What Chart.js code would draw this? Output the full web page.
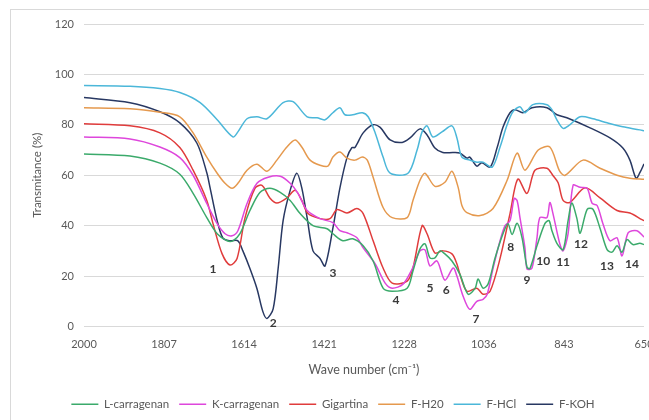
<!DOCTYPE html>
<html>
<head>
<meta charset="utf-8">
<script src="https://cdn.jsdelivr.net/npm/chart.js@4.4.1/dist/chart.umd.min.js"></script>
<style>
  html, body { margin: 0; padding: 0; background: #fff; overflow: hidden; }
  #wrap { position: relative; width: 665px; height: 420px; }
</style>
</head>
<body>
<div id="wrap"><canvas id="myChart"></canvas></div>
<script>
// wave number (cm-1), transmitance (%)
var lCarragenan = [
  [2000, 68.4], [1889, 67.6], [1817, 64.8], [1769, 60.4], [1737, 52.8], [1704, 43.2], [1679, 36.8],
  [1655, 34], [1641, 34], [1624, 36.8], [1600, 46], [1576, 53.2], [1552, 54.8], [1527, 53.2],
  [1503, 50], [1479, 44.8], [1448, 40], [1414, 38.8], [1400, 36.8], [1376, 34], [1352, 34.8],
  [1327, 32], [1303, 26], [1279, 15.2], [1257, 14], [1221, 15.2], [1207, 22], [1190, 30.8],
  [1178, 32.8], [1166, 27.2], [1154, 27.2], [1142, 30], [1130, 28.8], [1113, 26], [1094, 20.8],
  [1074, 12.8], [1057, 15.2], [1050, 18.8], [1038, 15.2], [1026, 16.8], [1009, 27.2], [990, 36.8],
  [978, 40.8], [968, 36.5], [956, 41], [944, 35.2], [932, 23.5], [925, 23], [908, 32], [889, 40.8],
  [879, 42], [872, 38], [860, 33], [845, 30.5], [833, 42], [824, 49], [812, 43], [804, 37],
  [787, 46.5], [773, 46.5], [756, 39], [739, 30.5], [727, 29.5], [715, 32], [703, 29.5],
  [691, 34.5], [677, 32.5], [660, 33], [650, 32.5]
];
var kCarragenan = [
  [2000, 75.2], [1889, 74.4], [1817, 71.2], [1769, 67], [1737, 60], [1704, 48.8], [1679, 40.8],
  [1660, 36.8], [1643, 36], [1629, 38], [1607, 48.8], [1583, 56.8], [1556, 59.2], [1527, 59.6],
  [1503, 56.8], [1484, 52.8], [1462, 46], [1431, 42.8], [1400, 41.2], [1383, 38], [1366, 37.2],
  [1342, 35.2], [1327, 31.2], [1298, 24.8], [1274, 17.2], [1257, 15.2], [1231, 16.8], [1209, 22.8],
  [1190, 30], [1178, 30.4], [1166, 24], [1149, 26], [1130, 18.4], [1110, 23.2], [1101, 20],
  [1086, 12], [1070, 6.8], [1053, 10], [1038, 10.8], [1028, 12.8], [1014, 23], [997, 34],
  [985, 40], [973, 42], [963, 50.8], [956, 50], [949, 43.2], [937, 31.2], [932, 22.8], [920, 23.2],
  [908, 35.2], [901, 43.2], [884, 43.2], [877, 49.2], [870, 45.2], [853, 32.8], [845, 30],
  [833, 36.8], [821, 56], [804, 55.2], [787, 54.8], [775, 48.8], [763, 48], [749, 40.8], [732, 34],
  [715, 35.2], [703, 28], [688, 37.2], [667, 38], [653, 36], [650, 35.5]
];
var gigartina = [
  [2000, 80.4], [1889, 79.6], [1817, 76.8], [1769, 71], [1737, 62], [1704, 50], [1689, 40.8],
  [1667, 28.8], [1648, 24.4], [1631, 27], [1612, 43], [1588, 54.8], [1571, 56], [1552, 51],
  [1535, 49], [1511, 51], [1491, 54], [1475, 50], [1460, 44.8], [1431, 42.8], [1407, 42.8],
  [1390, 46.4], [1366, 45], [1342, 46.8], [1327, 44.8], [1303, 34], [1279, 23.2], [1257, 17.2],
  [1221, 18], [1207, 23.2], [1185, 40], [1173, 36.8], [1154, 29.2], [1135, 30], [1113, 28.8],
  [1101, 24.8], [1094, 20.8], [1077, 14], [1053, 15.2], [1038, 12.8], [1021, 14], [997, 27],
  [973, 44.8], [954, 58.5], [932, 52.8], [913, 62], [884, 62.8], [870, 60], [857, 57],
  [845, 50], [829, 49.2], [792, 55], [756, 51], [715, 46], [684, 45], [655, 42.4], [650, 42]
];
var fH20 = [
  [2000, 86.8], [1889, 86.4], [1817, 85], [1769, 83.2], [1737, 76.8], [1704, 67.2], [1679, 60.8],
  [1660, 56.8], [1643, 54.8], [1629, 56.8], [1607, 62], [1583, 64.4], [1559, 61.6], [1535, 66],
  [1511, 71.2], [1491, 74], [1475, 71.2], [1455, 66], [1431, 64], [1412, 63.6], [1400, 67.2],
  [1383, 69.2], [1366, 66.8], [1347, 66], [1329, 67.2], [1317, 66], [1303, 59.2], [1279, 47.2],
  [1257, 43.2], [1221, 43.2], [1207, 50], [1190, 58], [1178, 60.8], [1154, 55.6], [1130, 57.2],
  [1113, 61.6], [1098, 55.2], [1089, 48], [1077, 45.2], [1045, 44], [1014, 46.8], [980, 58],
  [956, 68.8], [937, 62], [905, 70], [877, 71.2], [853, 61.5], [840, 60], [797, 66], [756, 62.8],
  [715, 60], [684, 58.8], [650, 58.4]
];
var fHCl = [
  [2000, 95.6], [1889, 95.3], [1817, 94.4], [1769, 92.8], [1720, 88.8], [1679, 82], [1641, 75.2],
  [1629, 77.2], [1607, 82.4], [1583, 83.2], [1559, 82.4], [1520, 88.8], [1496, 89.2], [1462, 83.2],
  [1438, 82.8], [1419, 82], [1400, 84.8], [1383, 86.8], [1371, 84], [1352, 84], [1329, 84.8],
  [1315, 83.2], [1298, 76.8], [1279, 67.2], [1262, 60.8], [1219, 60.8], [1197, 70], [1185, 77.2],
  [1173, 79.6], [1159, 75.2], [1137, 77.2], [1113, 79.6], [1101, 74.8], [1089, 67.2], [1070, 66],
  [1053, 65.2], [1038, 65.2], [1016, 63.2], [997, 71.2], [980, 80], [966, 85.2], [949, 87.2],
  [937, 84.8], [918, 88], [884, 88], [872, 86], [860, 82], [845, 78.6], [829, 80], [804, 83.2],
  [773, 82.4], [739, 80.8], [701, 79.2], [660, 78], [650, 77.6]
];
var fKOH = [
  [2000, 90.8], [1889, 88.8], [1817, 85.2], [1769, 80.8], [1728, 72.8], [1704, 61], [1696, 55],
  [1679, 42], [1665, 35], [1648, 34], [1629, 34], [1617, 30], [1600, 23], [1583, 15], [1569, 6],
  [1559, 3.2], [1544, 7], [1532, 23], [1520, 42], [1503, 54], [1487, 60.8], [1475, 55], [1462, 43],
  [1448, 30], [1431, 27], [1419, 24], [1400, 39], [1383, 55], [1366, 67], [1354, 71], [1347, 71],
  [1327, 76.8], [1303, 80], [1286, 79], [1262, 74], [1233, 73], [1214, 74.8], [1190, 78.4],
  [1173, 76], [1154, 70.8], [1135, 69], [1110, 69], [1094, 68.8], [1077, 66.8], [1070, 67.2],
  [1053, 63.6], [1041, 65], [1021, 63.2], [1004, 71], [990, 79], [973, 84.8], [961, 86],
  [942, 84.8], [920, 86.8], [884, 86.8], [860, 84], [836, 82.8], [780, 78.8], [732, 74.8],
  [701, 70.8], [684, 66], [669, 58.8], [660, 61], [650, 64.5]
];

var seriesNames = ["L-carragenan", "K-carragenan", "Gigartina", "F-H20", "F-HCl", "F-KOH"];
var seriesColors = ["#3BAA6B", "#DE47DC", "#E03C3C", "#E5994E", "#4BB7D9", "#283862"];
var xTickLabels = ["2000", "1807", "1614", "1421", "1228", "1036", "843", "650"];

// peak numbers: [label, wave number, transmitance]
var peakLabels = [
  ["1", 1689, 22.8], ["2", 1544, 1.2], ["3", 1400, 21.2], ["4", 1248, 10.4], ["5", 1166, 15.2],
  ["6", 1127, 14.4], ["7", 1055, 2.8], ["8", 971, 31.6], ["9", 932, 18.4], ["10", 893, 26],
  ["11", 845, 25.6], ["12", 802, 32.8], ["13", 739, 24], ["14", 679, 24.8]
];

var allSeries = [lCarragenan, kCarragenan, gigartina, fH20, fHCl, fKOH];
var gray = "#595959";
var fontFam = "Lato, 'Open Sans', sans-serif";

var datasets = [];
for (var i = 0; i < allSeries.length; i++) {
  datasets.push({
    label: seriesNames[i],
    data: allSeries[i],
    borderColor: seriesColors[i],
    backgroundColor: seriesColors[i],
    borderWidth: 1.5,
    pointRadius: 0,
    tension: 0.3,
    fill: false
  });
}

var frame = {
  id: "frame",
  beforeDraw: function (chart) {
    var c = chart.ctx;
    c.save();
    c.strokeStyle = "#D9D9D9";
    c.lineWidth = 1;
    c.strokeRect(10.5, 9.5, 652, 430);
    c.restore();
  }
};

var peakText = {
  id: "peakText",
  afterDatasetsDraw: function (chart) {
    var c = chart.ctx;
    var sx = chart.scales.x;
    var sy = chart.scales.y;
    c.save();
    c.fillStyle = "#3A3A3A";
    c.font = "bold 12px " + fontFam;
    c.textAlign = "center";
    c.textBaseline = "middle";
    peakLabels.forEach(function (p) {
      c.fillText(p[0], sx.getPixelForValue(p[1]), sy.getPixelForValue(p[2]));
    });
    c.restore();
  }
};

var ctx = document.getElementById("myChart");
var myChart = new Chart(ctx, {
  type: "line",
  data: { datasets: datasets },
  options: {
    responsive: true,
    maintainAspectRatio: false,
    animation: false,
    layout: { padding: { left: 22, right: 21, top: 24, bottom: 0 } },
    plugins: {
      tooltip: { enabled: false },
      legend: {
        position: "bottom",
        labels: {
          usePointStyle: true,
          pointStyle: "line",
          pointStyleWidth: 27,
          boxHeight: 11,
          color: gray,
          font: { family: fontFam, size: 11.5 },
          padding: 10
        }
      }
    },
    scales: {
      x: {
        type: "linear",
        reverse: true,
        min: 650,
        max: 2000,
        afterBuildTicks: function (scale) {
          scale.ticks = xTickLabels.map(function (v) { return { value: Number(v) }; });
        },
        afterFit: function (scale) { scale.height = 62; },
        ticks: {
          autoSkip: false,
          maxRotation: 0,
          padding: 11,
          color: gray,
          font: { family: fontFam, size: 11 },
          callback: function (v) { return String(v); }
        },
        grid: { display: false, drawTicks: false },
        border: { display: false },
        title: {
          display: true,
          text: "Wave number (cm\u207B\u00B9)",
          color: gray,
          font: { family: fontFam, size: 12.5 },
          padding: { top: 4, bottom: 11 }
        }
      },
      y: {
        min: 0,
        max: 120,
        afterFit: function (scale) { scale.width = 62; },
        ticks: {
          stepSize: 20,
          padding: 10,
          color: gray,
          font: { family: fontFam, size: 11 }
        },
        grid: { color: "#D9D9D9", drawTicks: false },
        border: { display: false },
        title: {
          display: true,
          text: "Transmitance (%)",
          color: gray,
          font: { family: fontFam, size: 11.5 },
          padding: { top: 8, bottom: 0 }
        }
      }
    }
  },
  plugins: [frame, peakText]
});
</script>
</body>
</html>
